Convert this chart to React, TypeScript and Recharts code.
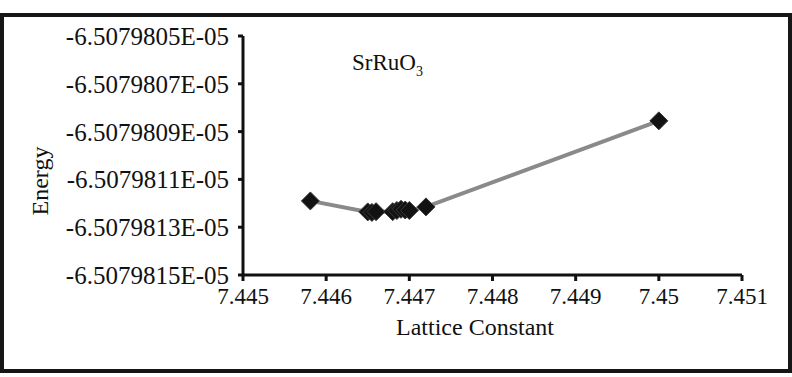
import { LineChart, Line, XAxis, YAxis } from "recharts";

// lattice constant (Å) vs total energy
const latticeConstants = [
  7.44581, 7.4465, 7.44655, 7.4466, 7.4468, 7.44685, 7.4469, 7.44695, 7.447,
  7.4472, 7.45,
];
const energies = [
  -6.50798119e-5, -6.507981236e-5, -6.507981238e-5, -6.507981235e-5,
  -6.507981235e-5, -6.50798123e-5, -6.507981225e-5, -6.507981228e-5,
  -6.50798123e-5, -6.507981215e-5, -6.507980855e-5,
];

const xTicks = [7.445, 7.446, 7.447, 7.448, 7.449, 7.45, 7.451];
const xTickLabels = ["7.445", "7.446", "7.447", "7.448", "7.449", "7.45", "7.451"];
const yTicks = [
  -6.5079815e-5, -6.5079813e-5, -6.5079811e-5, -6.5079809e-5, -6.5079807e-5,
  -6.5079805e-5,
];
const yTickLabels = [
  "-6.5079815E-05",
  "-6.5079813E-05",
  "-6.5079811E-05",
  "-6.5079809E-05",
  "-6.5079807E-05",
  "-6.5079805E-05",
];

const data = latticeConstants.map((a, i) => ({ a, energy: energies[i] }));

const FONT = "'Liberation Serif', 'Times New Roman', serif";

const Diamond = (props: any) => {
  const { cx, cy } = props;
  if (cx == null || cy == null) return null;
  const r = 9;
  return (
    <polygon
      points={`${cx},${cy - r} ${cx + r},${cy} ${cx},${cy + r} ${cx - r},${cy}`}
      fill="#121212"
      stroke="#3a3a3a"
      strokeWidth={1}
    />
  );
};

const renderXTick = (props: any) => {
  const { x, y, index } = props;
  return (
    <text
      key={`xt-${index}`}
      x={x}
      y={y + 17}
      textAnchor="middle"
      style={{ fontFamily: FONT, fontSize: 23, fill: "#111" }}
    >
      {xTickLabels[index]}
    </text>
  );
};

const renderYTick = (props: any) => {
  const { x, y, index } = props;
  return (
    <text
      key={`yt-${index}`}
      x={x}
      y={y + 9}
      textAnchor="end"
      style={{ fontFamily: FONT, fontSize: 25, fill: "#111" }}
    >
      {yTickLabels[index]}
    </text>
  );
};

export default function App() {
  return (
    <div
      style={{
        position: "absolute",
        left: 0,
        top: 0,
        width: 792,
        height: 377,
        background: "#fff",
        fontFamily: FONT,
      }}
    >
      {/* outer frame */}
      <div
        style={{
          position: "absolute",
          left: 0,
          top: 13,
          width: 792,
          height: 360,
          boxSizing: "border-box",
          border: "4px solid #161616",
        }}
      />
      <LineChart
        width={792}
        height={377}
        data={data}
        margin={{ top: 36, right: 50, bottom: 52, left: 0 }}
        style={{ position: "absolute", left: 0, top: 0, fontFamily: FONT }}
      >
        <XAxis
          dataKey="a"
          type="number"
          domain={[7.445, 7.451]}
          ticks={xTicks}
          axisLine={{ stroke: "#111", strokeWidth: 3 }}
          tickLine={{ stroke: "#111", strokeWidth: 3 }}
          tickSize={6}
          tickMargin={6}
          height={50}
          interval={0}
          tick={renderXTick}
        />
        <YAxis
          type="number"
          domain={[yTicks[0], yTicks[yTicks.length - 1]]}
          ticks={yTicks}
          axisLine={{ stroke: "#111", strokeWidth: 3 }}
          tickLine={{ stroke: "#111", strokeWidth: 3 }}
          tickSize={5}
          tickMargin={9}
          width={243}
          interval={0}
          tick={renderYTick}
        />
        <Line
          dataKey="energy"
          stroke="#8a8a8a"
          strokeWidth={4}
          dot={<Diamond />}
          activeDot={false}
          isAnimationActive={false}
        />
      </LineChart>
      <div
        style={{
          position: "absolute",
          left: 352,
          top: 50,
          fontSize: 23,
          color: "#111",
          whiteSpace: "nowrap",
        }}
      >
        SrRuO<sub style={{ fontSize: 14 }}>3</sub>
      </div>
      <div
        style={{
          position: "absolute",
          left: 475,
          top: 314,
          transform: "translateX(-50%)",
          fontSize: 24,
          color: "#111",
          whiteSpace: "nowrap",
        }}
      >
        Lattice Constant
      </div>
      <div
        style={{
          position: "absolute",
          left: 40,
          top: 181,
          transform: "translate(-50%, -50%) rotate(-90deg)",
          fontSize: 24,
          color: "#111",
          whiteSpace: "nowrap",
        }}
      >
        Energy
      </div>
    </div>
  );
}
